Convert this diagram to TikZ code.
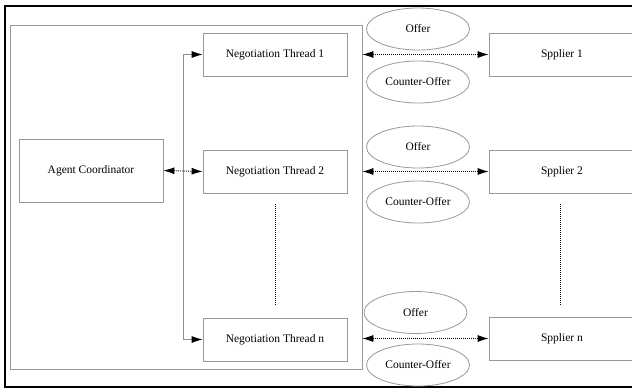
\documentclass[tikz,border=0pt]{standalone}
\usepackage{fontspec}
\setmainfont{Liberation Serif}
\usetikzlibrary{arrows.meta,shapes.geometric}
\begin{document}
\begin{tikzpicture}[x=1pt,y=-1pt,
  box/.style={draw=black!40,line width=0.8pt,rectangle,inner sep=0pt,font=\fontsize{11.5}{13}\selectfont},
  oval/.style={draw=black!40,line width=0.8pt,ellipse,minimum width=103pt,minimum height=42pt,inner sep=0pt,font=\fontsize{11.5}{13}\selectfont},
  tip/.style={-{Latex[length=11pt,width=7pt,black]}},
  dtip/.style={{Latex[length=11pt,width=7pt,black]}-{Latex[length=11pt,width=7pt,black]}},
  dotline/.style={line width=0.8pt,dash pattern=on 1pt off 1pt},
  trunk/.style={draw=black!45,line width=0.8pt}]
\useasboundingbox (0,0) rectangle (632,389);
\draw[line width=1.8pt] (5,6) rectangle (645,387);
\node[box,minimum width=352pt,minimum height=344pt] (frame) at (186,197) {};
\node[box,minimum width=144pt,minimum height=63pt] (ac) at (91,170.5) {Agent Coordinator};
\node[box,minimum width=144pt,minimum height=43pt] (th1) at (275,54.5) {Negotiation Thread 1};
\node[box,minimum width=144pt,minimum height=43pt] (th2) at (275,171.5) {Negotiation Thread 2};
\node[box,minimum width=144pt,minimum height=43pt] (thn) at (275,339.5) {Negotiation Thread n};
\node[box,minimum width=146pt,minimum height=43pt] (s1) at (562,54.5) {Spplier 1};
\node[box,minimum width=146pt,minimum height=43pt] (s2) at (562,171.5) {Spplier 2};
\node[box,minimum width=146pt,minimum height=43pt] (sn) at (562,338.5) {Spplier n};
\node[oval] (o1) at (418,29) {Offer};
\node[oval] (c1) at (418,82) {Counter-Offer};
\node[oval] (o2) at (418,147) {Offer};
\node[oval] (c2) at (418,202) {Counter-Offer};
\node[oval] (on) at (415.5,312.5) {Offer};
\node[oval] (cn) at (418,365) {Counter-Offer};
% trunk
\coordinate (t1) at (183,54.5);
\coordinate (t2) at (183,171.5);
\coordinate (tn) at (183,339.5);
\draw[trunk] (t1) -- (tn);
\draw[trunk,tip] (t1) -- (th1.west);
\draw[trunk,tip] (tn) -- (thn.west);
\draw[dotline,dtip] (ac.east) -- (th2.west);
% supplier links
\draw[dotline,dtip] (frame.east |- th1.west) -- (s1.west);
\draw[dotline,dtip] (frame.east |- th2.west) -- (s2.west);
\draw[dotline,dtip] (frame.east |- sn.west) -- (sn.west);
% ellipsis lines
\coordinate (v1a) at (275,204);
\coordinate (v1b) at (275,306);
\coordinate (v2a) at (560,204);
\coordinate (v2b) at (560,306);
\draw[dotline] (v1a) -- (v1b);
\draw[dotline] (v2a) -- (v2b);
\end{tikzpicture}
\end{document}
